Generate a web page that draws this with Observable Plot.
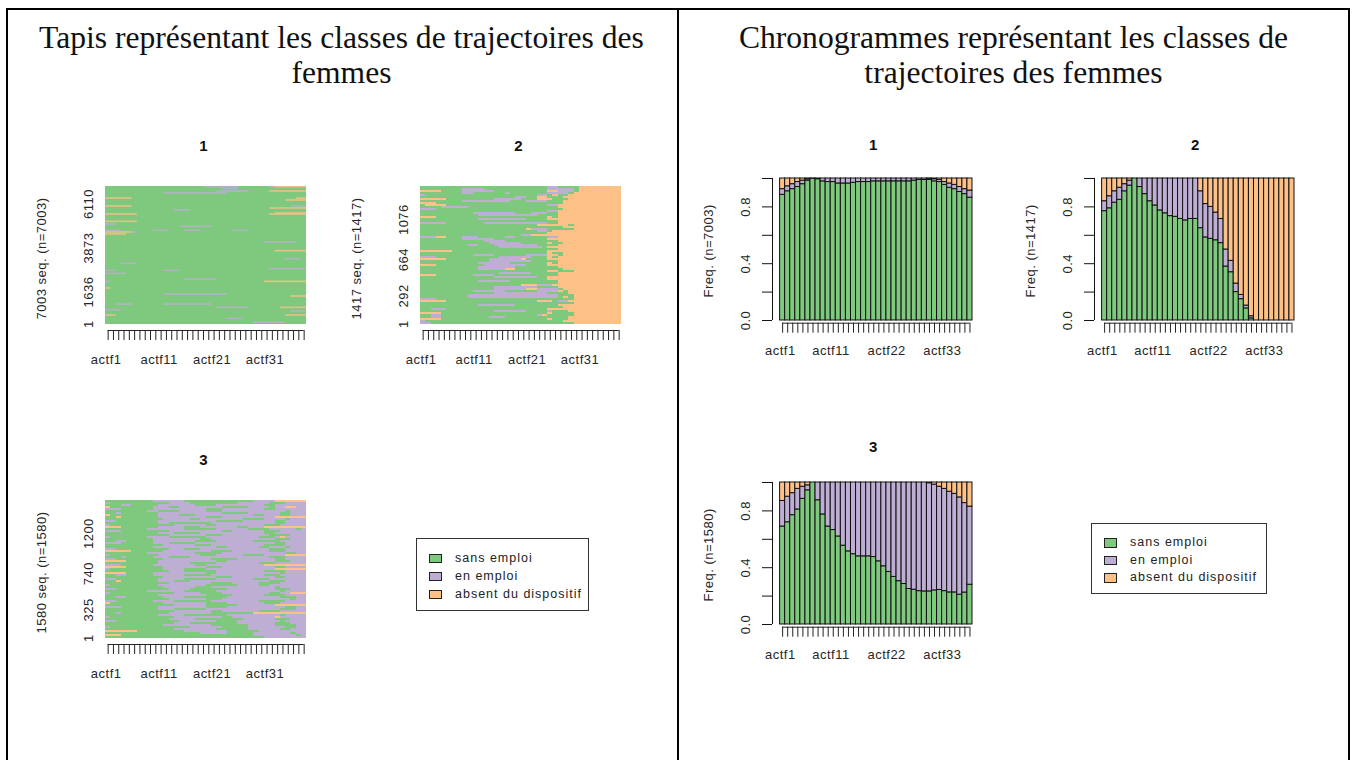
<!DOCTYPE html>
<html lang="fr">
<head>
<meta charset="utf-8">
<title>Classes de trajectoires des femmes</title>
<script src="https://cdn.jsdelivr.net/npm/d3@7"></script>
<script src="https://cdn.jsdelivr.net/npm/@observablehq/plot@0.6"></script>
<style>
html,body{margin:0;padding:0;background:#fff;overflow:hidden}
#page{position:relative;width:1354px;height:760px;font-family:"Liberation Sans",Arial,sans-serif;color:#222}
.line{position:absolute;background:#000}
.heading{position:absolute;font-family:"Liberation Serif","Times New Roman",serif;font-size:31.6px;line-height:35px;color:#111;text-align:center;white-space:nowrap}
.panel{position:absolute}
.panel svg{display:block;overflow:visible}
.legend{position:absolute;box-sizing:border-box;border:1.5px solid #333;background:#fff}
.legend div{position:absolute;font-size:12.5px;letter-spacing:1px;line-height:14px;white-space:nowrap}
.legend i{position:absolute;width:10.5px;height:7.5px;border:1px solid #222}
</style>
</head>
<body>
<div id="page"></div>
<script>
const stateNames = ["sans emploi", "en emploi", "absent du dispositif"];
const stateColors = ["#7FC97F", "#BEAED4", "#FDC086"];
const stateCodes = {g: "sans emploi", p: "en emploi", o: "absent du dispositif"};
const columnCount = 38;
const columnNames = d3.range(1, columnCount + 1).map(i => "actf" + i);
const tapisTickColumns = [1, 11, 21, 31];
const chronoTickColumns = [1, 11, 22, 33];

const headingLeft = ["Tapis représentant les classes de trajectoires des", "femmes"];
const headingRight = ["Chronogrammes représentant les classes de", "trajectoires des femmes"];

// Tapis 1: sparse episodes [sequence number, first column, last column, state]
const tapis1 = [
 [6970,19,25,"p"],[6970,31,32,"p"],[6970,32,38,"o"],[6868,22,25,"p"],[6749,21,27,"p"],[6749,31,38,"o"],
 [6648,11,23,"p"],[6393,0,5,"o"],[6393,36,38,"o"],[6291,34,38,"o"],[5986,0,5,"o"],[5986,35,38,"p"],
 [5884,31,38,"o"],[5783,13,16,"p"],[5630,32,38,"o"],[5580,0,6,"o"],[5580,31,38,"o"],[5206,0,6,"o"],
 [5071,0,2,"p"],[4952,14,20,"p"],[4749,0,3,"p"],[4749,9,12,"p"],[4749,15,18,"p"],[4749,24,27,"p"],
 [4664,0,5,"o"],[4664,5,6,"p"],[4562,0,4,"o"],[4155,30,36,"p"],[3714,32,38,"o"],[3307,34,37,"p"],
 [3069,3,6,"p"],[2798,31,38,"p"],[2713,0,2,"p"],[2713,11,14,"p"],[2561,0,4,"p"],[2273,15,21,"p"],
 [2154,0,1,"p"],[2154,30,38,"o"],[1815,0,1,"o"],[1509,11,23,"p"],[1408,35,38,"o"],[1001,2,5,"p"],
 [1001,11,20,"p"],[831,21,27,"p"],[831,33,38,"o"],[712,0,3,"p"],[644,35,38,"p"],[441,0,2,"o"],
 [441,34,38,"o"],[271,23,26,"p"],[85,28,34,"p"]
];

// Tapis 2 and 3: one run-length row per visible band, top to bottom (the last run fills the row)
const tapis2 = [
"g24 p2 g4 o","g8 p4 g12 p5 g1 o","o4 g4 p6 g10 o2 p3 g1 o","g8 p2 g6 p1 g7 p4 g1 o","p1 g21 p2 g1 o1 g2 o",
"g18 p2 g2 o2 g3 o","o5 g9 p5 g3 o3 g3 o","g8 p9 g3 p4 g3 o","o3 g21 g3 o","g1 o4 g19 p2 o",
"g4 p5 g15 g2 o","p3 g21 g3 o","g24 p2 o","g10 p8 g3 p3 g2 o","g11 p11 g4 o",
"o3 g21 o1 g1 o","g11 p9 g4 o2 o","g24 g2 o","p5 g7 p12 g2 o","g22 o6 g1 o",
"g24 g3 o2 o","g20 o1 p3 g5 o","g22 p2 g1 o","g24 o","g3 g16 p2 o2 o",
"p3 o2 g3 p3 g5 p2 g6 p2 o","g8 p6 g10 o","g12 p4 g8 g2 o","g13 p6 g5 o1 g2 o","g9 p2 g3 p8 g2 g2 o",
"g15 p8 g1 o","g24 g2 o","o6 g18 o","g24 o1 g2 o","g10 p4 g6 p4 o2 g1 o",
"p3 g12 p6 g3 o1 g1 o","o5 g8 p6 o1 g4 o","g13 p8 g3 g2 o","g11 p6 g7 o1 g1 o","o3 g9 p8 g4 o",
"g11 p7 g6 g2 o","g11 p5 o2 g6 g3 o","g24 o2 g3 o","g15 p6 g3 g2 o","o3 g7 p4 g10 g2 o",
"g14 p8 g2 o","g7 g17 o","g11 p6 g7 g2 o","g24 g2 o","g19 o3 p3 o",
"g14 p8 g2 g2 o","g14 p6 o2 p4 g1 o","g10 p6 g6 p4 o1 g1 o","g14 p10 g2 g2 o1 o","g9 p15 p2 g3 o",
"g9 p14 p3 g1 o1 g1 o","p3 g20 g3 g3 o","o5 g17 o3 g1 p2 o","g24 g3 g2 o","g11 p7 g6 g2 o",
"g6 g18 g3 o","g2 p3 g19 o","g14 p6 g4 p1 g2 g1 o","o4 g16 g4 o1 g2 g2 o","g2 p2 g18 p1 o1 g5 o",
"g2 p2 g9 p3 g8 g4 o","o4 g2 g18 o1 g3 o","p1 g23 g3 o","p2 g22 g4 g1 o"
];
const tapis3 = [
"g9 p6 g13 p4 o","p1 g11 p4 g9 p6 g3 p","g3 p2 g5 p7 g4 p9 g2 p","o1 g8 p3 g2 p8 g5 p4 g1 p2 o2 p","p3 g6 p10 g3 p8 g2 p",
"g8 p2 g4 p5 g3 p12 g1 p","g2 p1 g7 p12 g5 p6 g2 p","o1 g9 p4 g3 p11 g2 p3 g2 p","g2 o1 g7 p9 g3 p10 o","g11 p5 g2 p8 g4 p4 g1 p",
"p2 g8 p11 g5 p6 g2 p","g10 p2 g8 p12 g2 p","p1 g12 p6 g2 p9 g3 p","o3 g7 p5 g3 p7 g2 p3 o","g8 p7 g6 p6 g4 p5 g1 p",
"p3 g9 p10 g2 p6 g3 p","g10 p3 g5 p12 g2 p","g12 p7 g3 p9 g4 p","p1 g7 p4 g7 p10 g3 p1 o1 p","g9 p9 g2 p12 g3 p",
"g2 p2 g5 p8 g4 p7 g5 p","p3 g6 p3 g5 p15 g2 p","g11 p6 g3 p10 g4 p","g9 p12 g2 p6 g2 p3 g1 p","p2 g10 p3 g3 p13 g3 p",
"o5 g6 p9 g4 p7 g3 p","g8 p9 g5 p12 g2 p","p1 g9 p8 g3 p5 g4 p4 o","g3 p1 g5 p3 g4 p15 g3 p","p2 g9 p9 g5 p7 g2 p",
"o4 g6 p11 g2 p9 g3 p","g10 p6 g5 p8 g3 p","p3 g6 p8 g2 p11 o","o4 g7 p8 g3 p10 g2 p","p1 g10 p4 g4 p13 o",
"g12 p3 g6 p9 g4 p","o4 g5 p10 g2 p12 g1 p","g2 p2 g5 p6 g5 p10 g3 p","g11 p10 g3 p8 g2 p","p2 g8 p5 g6 p7 g3 p",
"g2 o1 g7 p3 g3 p15 g3 p","g12 p8 g4 p5 g4 p","p1 g9 p9 g6 p4 g2 p","g11 p6 g3 p12 g1 p","p2 g10 p4 g7 p9 g3 p",
"g8 p7 g6 p12 g1 p","p1 g12 p5 g4 p9 g2 p2 o","g10 p9 g5 p6 g4 p","g2 p2 g7 p4 g8 p10 g3 p","g12 p7 g3 p13 g1 p",
"p2 g7 p4 g7 p9 g5 p","o1 g10 p8 g4 p7 g3 p","g13 p6 g6 p7 o","p3 g7 p9 g4 p11 g2 p","g10 p3 g6 p14 g3 p",
"g13 p7 g2 p7 g4 p","g2 p1 g9 p8 g8 o","g10 p5 g8 p10 g1 p","p1 g12 p9 g2 p8 o1 p","g12 p5 g9 p6 g3 p",
"p2 g12 p7 g4 p8 g1 p","g13 p3 g9 p7 g3 p","g11 p9 g7 p5 g4 p","p1 g15 p6 g5 p7 g2 p","g13 p8 g6 p6 g2 p",
"o6 g9 p8 g6 p","g18 p5 g5 p7 g1 p","o3 g14 g11 p8 g1 p","g30 p"
];

// Chronogrammes: cumulative tops of "sans emploi" and of "sans emploi + en emploi"
const chrono1Sans = [.885,.91,.925,.94,.96,.985,.998,.995,.98,.975,.975,.965,.965,.965,.97,.975,.975,.975,.98,.98,.98,.98,.98,.98,.98,.98,.985,.99,.99,.99,.98,.975,.955,.935,.925,.905,.89,.865];
const chrono1Emploi = [.925,.945,.96,.975,.985,.995,1,1,1,1,1,1,1,1,1,1,1,1,1,1,1,1,1,1,1,1,1,1,1,.998,.995,.99,.975,.965,.955,.94,.925,.915];
const chrono2Sans = [.77,.79,.83,.85,.91,.95,1,.94,.89,.84,.81,.775,.755,.735,.73,.715,.705,.715,.715,.65,.585,.575,.565,.545,.38,.34,.2,.15,.085,.015,0,0,0,0,0,0,0,0];
const chrono2Emploi = [.84,.875,.91,.935,.96,.985,1,1,1,1,1,1,1,1,1,1,1,1,1,.91,.82,.8,.76,.715,.5,.42,.26,.18,.105,.03,0,0,0,0,0,0,0,0];
const chrono3Sans = [.69,.72,.77,.81,.885,.945,1,.875,.775,.69,.665,.62,.555,.515,.495,.48,.48,.48,.475,.445,.41,.37,.335,.305,.285,.25,.245,.235,.233,.233,.24,.243,.235,.226,.226,.21,.225,.28];
const chrono3Emploi = [.87,.9,.925,.955,.97,.98,1,1,1,1,1,1,1,1,1,1,1,1,1,1,1,1,1,1,1,1,1,1,1,.995,.985,.97,.955,.935,.92,.895,.855,.83];

const tapisTicks = {1: [1,1636,3873,6110], 2: [1,292,664,1076], 3: [1,325,740,1200]};
const chronoTicks = [0,.2,.4,.6,.8,1];
const chronoLabelled = [0,.4,.8];

const page = document.getElementById("page");
function line(l,t,w,h){const d=document.createElement("div");d.className="line";Object.assign(d.style,{left:l+"px",top:t+"px",width:w+"px",height:h+"px"});page.append(d);}
line(6,8,1344,2); line(6,8,2,752); line(677,8,2,752); line(1348,8,2,752);

function heading(lines,left,width){const d=document.createElement("div");d.className="heading";Object.assign(d.style,{left:left+"px",top:"20px",width:width+"px"});d.innerHTML=lines.join("<br>");page.append(d);}
heading(headingLeft,7,669);
heading(headingRight,679,669);

const colorScale = {domain: stateNames, range: stateColors};
const centers = d3.range(columnCount).map(i => i + .5);
const labelledCenters = cols => cols.map(c => c - .5);
const columnLabel = d => columnNames[d - .5];
const textColor = "#262626";
const svgStyle = {fontFamily:"'Liberation Sans',Arial,sans-serif",background:"transparent",color:textColor,overflow:"visible",letterSpacing:".5px"};

function mount(svg,left,top){
  const d=document.createElement("div");d.className="panel";d.style.left=left+"px";d.style.top=top+"px";d.append(svg);page.append(d);
}
function titleMark(t,dx,dy){return Plot.text([t],{frameAnchor:"top",dy,dx,fontSize:15,fontWeight:"bold",fill:"#111",lineAnchor:"middle"});}
function yLabelMark(t,dx){return Plot.text([t],{frameAnchor:"left",dx,rotate:-90,textAnchor:"middle",fontSize:13,fill:textColor,ariaLabel:"ylabel"});}
function spaceLabel(svg,sp){const g=svg.querySelector('[aria-label="ylabel"]');if(g)g.style.letterSpacing=sp;}
function xAxes(cols,padding,dx){
  return [
    Plot.axisX({ticks:centers,tickSize:10,text:null,label:null,stroke:"#222"}),
    Plot.axisX({ticks:labelledCenters(cols),tickSize:0,tickPadding:padding,dx,tickFormat:columnLabel,fontSize:13,label:null})
  ];
}

function tapisPlot({n,ticks,title,rects,left,top,yLabelText}){
  const marginLeft=100,marginTop=50,plotW=201.3,plotH=137.7;
  const svg=Plot.plot({
    width:marginLeft+plotW+30,height:marginTop+plotH+6.3+50,marginLeft,marginRight:30,marginTop,marginBottom:50,insetBottom:6.3,
    style:svgStyle,
    x:{domain:[0,columnCount]},y:{domain:[0,n]},color:colorScale,
    marks:[
      ...rects,
      Plot.ruleY([{a:centers[0],b:centers[columnCount-1]}],{y:()=>0,x1:"a",x2:"b",dy:6.3,stroke:"#222",strokeWidth:1}),
      ...xAxes(tapisTickColumns,24,-2),
      Plot.axisY({ticks,tickSize:0,tickPadding:13,tickRotate:-90,fontSize:13,label:null,tickFormat:d=>String(d)}),
      yLabelMark(yLabelText,-64),
      titleMark(title,-2.5,-40)
    ]
  });
  spaceLabel(svg,".9px");
  mount(svg,left-marginLeft,top-marginTop);
}

function runsToRects(rows,n){
  const out=[];
  rows.forEach((row,k)=>{
    let c=0;
    const toks=row.split(" ");
    toks.forEach((tok,j)=>{
      const len=tok.length>1?+tok.slice(1):columnCount-c;
      const end=j===toks.length-1?columnCount:Math.min(columnCount,c+len);
      if(end>c) out.push({c0:c,c1:end,s0:n*(1-(k+1)/rows.length),s1:n*(1-k/rows.length),state:stateCodes[tok[0]]});
      c=end;
    });
  });
  return out;
}
const rectChannels={x1:"c0",x2:"c1",y1:"s0",y2:"s1",fill:"state",shapeRendering:"crispEdges"};

const band1=7003/137.7*1.6;
const ground1=[{c0:0,c1:columnCount,s0:0,s1:7003,state:stateNames[0]}];
const episodes1=tapis1.map(([seq,c0,c1,s])=>({c0,c1,s0:seq-band1/2,s1:seq+band1/2,state:stateCodes[s]}));
tapisPlot({n:7003,ticks:tapisTicks[1],title:"1",left:105,top:186,yLabelText:"7003 seq. (n=7003)",
  rects:[Plot.rect(ground1,rectChannels),Plot.rect(episodes1,{x1:"c0",x2:"c1",y1:"s0",y2:"s1",fill:"state",fillOpacity:.8})]});
tapisPlot({n:1417,ticks:tapisTicks[2],title:"2",left:420.4,top:186,yLabelText:"1417 seq. (n=1417)",
  rects:[Plot.rect(runsToRects(tapis2,1417),rectChannels)]});
tapisPlot({n:1580,ticks:tapisTicks[3],title:"3",left:105,top:500,yLabelText:"1580 seq. (n=1580)",
  rects:[Plot.rect(runsToRects(tapis3,1580),rectChannels)]});

function chronoPlot({sans,emploi,n,title,left,top,titleDy}){
  const marginLeft=100,marginTop=50,axisGap=7.6,plotW=192.4,plotH=142;
  const bars=[];
  sans.forEach((v,i)=>{
    const e=emploi[i];
    [[0,v,0],[v,e,1],[e,1,2]].forEach(([y1,y2,s])=>{if(y2>y1) bars.push({c0:i,c1:i+1,y1,y2,state:stateNames[s]});});
  });
  const svg=Plot.plot({
    width:marginLeft+axisGap+plotW+30,height:marginTop+plotH+2.7+50,marginLeft,marginRight:30,marginTop,marginBottom:50,insetBottom:2.7,insetLeft:axisGap,
    style:svgStyle,
    x:{domain:[0,columnCount]},y:{domain:[0,1]},color:colorScale,
    marks:[
      Plot.rect(bars,{x1:"c0",x2:"c1",y1:"y1",y2:"y2",fill:"state",stroke:"#111",strokeWidth:1}),
      Plot.ruleX([{a:0,b:1}],{x:()=>0,y1:"a",y2:"b",dx:-axisGap,stroke:"#111",strokeWidth:1}),
      Plot.ruleY([{a:centers[0],b:centers[columnCount-1]}],{y:()=>0,x1:"a",x2:"b",dy:2.7,stroke:"#222",strokeWidth:1}),
      ...xAxes(chronoTickColumns,23,-2.3),
      Plot.axisY({ticks:chronoTicks,tickSize:10,text:null,label:null,stroke:"#111"}),
      Plot.axisY({ticks:chronoLabelled,tickSize:0,tickPadding:23,tickRotate:-90,fontSize:13,label:null,tickFormat:d=>d.toFixed(1)}),
      yLabelMark("Freq. (n="+n+")",-64),
      titleMark(title,1,titleDy)
    ]
  });
  spaceLabel(svg,".4px");
  mount(svg,left-marginLeft-axisGap,top-marginTop);
}
chronoPlot({sans:chrono1Sans,emploi:chrono1Emploi,n:7003,title:"1",left:779.3,top:178.3,titleDy:-33});
chronoPlot({sans:chrono2Sans,emploi:chrono2Emploi,n:1417,title:"2",left:1101.7,top:178.3,titleDy:-33});
chronoPlot({sans:chrono3Sans,emploi:chrono3Emploi,n:1580,title:"3",left:779.3,top:481.7,titleDy:-35});

function legend(left,top,w,h,swatchX,textX,rowY){
  const box=document.createElement("div");box.className="legend";
  Object.assign(box.style,{left:left+"px",top:top+"px",width:w+"px",height:h+"px"});
  stateNames.forEach((name,i)=>{
    const s=document.createElement("i");s.style.left=swatchX+"px";s.style.top=(rowY[i]-5)+"px";s.style.background=stateColors[i];box.append(s);
    const t=document.createElement("div");t.textContent=name;t.style.left=textX+"px";t.style.top=(rowY[i]-8)+"px";box.append(t);
  });
  page.append(box);
}
legend(416,537.5,172.5,73,12,38,[20,38,56]);
legend(1091,523,176,71,12,38,[19,36.5,54]);
</script>
</body>
</html>
